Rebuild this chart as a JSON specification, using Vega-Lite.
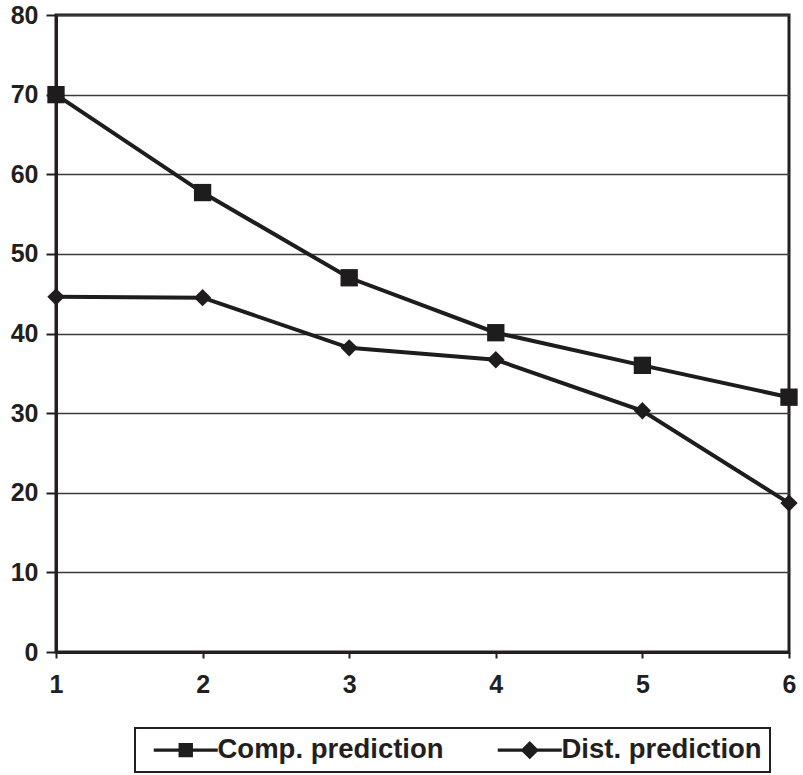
{
  "$schema": "https://vega.github.io/schema/vega-lite/v6.json",
  "width": 733,
  "height": 637,
  "autosize": {"type": "none"},
  "padding": {"left": 56, "top": 15, "right": 14, "bottom": 123},
  "background": "white",
  "config": {
    "font": "Liberation Sans",
    "view": {"stroke": "#231f20", "strokeWidth": 3},
    "legend": {"strokeWidth": 2}
  },
  "data": {
    "values": [
      {"step": 1, "series": "Comp. prediction", "value": 70.0},
      {"step": 2, "series": "Comp. prediction", "value": 57.7},
      {"step": 3, "series": "Comp. prediction", "value": 47.0},
      {"step": 4, "series": "Comp. prediction", "value": 40.1},
      {"step": 5, "series": "Comp. prediction", "value": 36.0},
      {"step": 6, "series": "Comp. prediction", "value": 32.0},
      {"step": 1, "series": "Dist. prediction", "value": 44.6},
      {"step": 2, "series": "Dist. prediction", "value": 44.5},
      {"step": 3, "series": "Dist. prediction", "value": 38.2},
      {"step": 4, "series": "Dist. prediction", "value": 36.7},
      {"step": 5, "series": "Dist. prediction", "value": 30.3},
      {"step": 6, "series": "Dist. prediction", "value": 18.7}
    ]
  },
  "encoding": {
    "x": {
      "field": "step",
      "type": "quantitative",
      "scale": {"domain": [1, 6], "nice": false, "zero": false},
      "axis": {
        "title": null,
        "values": [1, 2, 3, 4, 5, 6],
        "format": "d",
        "grid": false,
        "domainColor": "#231f20",
        "domainWidth": 3,
        "tickColor": "#231f20",
        "tickWidth": 2,
        "tickSize": 6,
        "labelFlush": false,
        "labelOverlap": false,
        "labelFont": "Liberation Sans",
        "labelFontSize": 25,
        "labelFontWeight": "bold",
        "labelColor": "#231f20",
        "labelPadding": 14
      }
    },
    "y": {
      "field": "value",
      "type": "quantitative",
      "scale": {"domain": [0, 80], "nice": false},
      "axis": {
        "title": null,
        "values": [0, 10, 20, 30, 40, 50, 60, 70, 80],
        "grid": true,
        "gridColor": "#3a3a3a",
        "gridWidth": 1.6,
        "domainColor": "#231f20",
        "domainWidth": 3,
        "tickColor": "#231f20",
        "tickWidth": 2,
        "tickSize": 10,
        "labelFont": "Liberation Sans",
        "labelFontSize": 25,
        "labelFontWeight": "bold",
        "labelColor": "#231f20",
        "labelPadding": 8,
        "labelBaseline": "middle"
      }
    }
  },
  "layer": [
    {
      "mark": {"type": "line", "color": "#1e1c1d", "strokeWidth": 4},
      "encoding": {"detail": {"field": "series", "type": "nominal"}}
    },
    {
      "mark": {"type": "point", "filled": true, "opacity": 1, "color": "#1e1c1d", "size": 300},
      "encoding": {
        "shape": {
          "field": "series",
          "type": "nominal",
          "scale": {
            "domain": ["Comp. prediction", "Dist. prediction"],
            "range": ["square", "diamond"]
          },
          "legend": null
        }
      }
    },
    {
      "transform": [{"filter": "false"}],
      "mark": {"type": "point", "filled": true, "opacity": 1, "color": "#1e1c1d"},
      "encoding": {
        "shape": {
          "field": "series",
          "type": "nominal",
          "scale": {
            "domain": ["Comp. prediction", "Dist. prediction"],
            "range": [
              "M-4,-0.2H4V0.2H-4ZM-0.9,-0.9H0.9V0.9H-0.9Z",
              "M-4,-0.2H4V0.2H-4ZM0,-1.15L1.15,0L0,1.15L-1.15,0Z"
            ]
          },
          "legend": {
            "orient": "none",
            "legendX": 79,
            "legendY": 713,
            "direction": "horizontal",
            "title": null,
            "padding": 8,
            "strokeColor": "#231f20",
            "symbolSize": 256,
            "symbolStrokeWidth": 0,
            "symbolFillColor": "#1e1c1d",
            "symbolOpacity": 1,
            "symbolOffset": 29,
            "labelOffset": 18,
            "columnPadding": 43,
            "labelLimit": 400,
            "labelFont": "Liberation Sans",
            "labelFontSize": 27.5,
            "labelFontWeight": "bold",
            "labelColor": "#231f20"
          }
        }
      }
    }
  ],
  "resolve": {"scale": {"shape": "independent"}, "legend": {"shape": "independent"}}
}
